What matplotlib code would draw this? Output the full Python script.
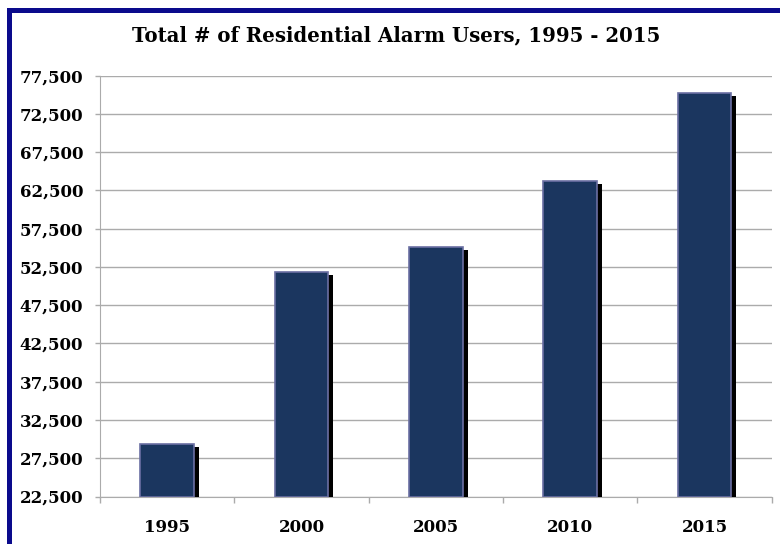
import numpy as np
import matplotlib
matplotlib.use('Agg')
import matplotlib.pyplot as plt
import matplotlib.patheffects as pe
from matplotlib.patches import Rectangle

# Data
years = ['1995', '2000', '2005', '2010', '2015']
users = [29400, 51850, 55150, 63700, 75300]
yticks = np.arange(22500, 77501, 5000)

# Styles
FONT = 'DejaVu Serif'
bar_col = '#1b365f'
edge_col = '#6b6fa3'
grid_col = '#ababab'
border_col = '#0a0a8c'

fig = plt.figure(figsize=(7.8, 5.44), dpi=100)
ax = fig.add_axes([100/780, 1-496.5/544, 671.7/780, (496.5-75.7)/544])

x = np.arange(len(years))
bars = ax.bar(x, np.array(users) - 22500, bottom=22500, width=0.40,
              color=bar_col, edgecolor=edge_col, linewidth=1.2, zorder=3)
for b in bars:
    b.set_path_effects([pe.SimplePatchShadow(offset=(3.6, -2.2), shadow_rgbFace='black', alpha=1.0),
                        pe.Normal()])

ax.set_xlim(-0.5, len(years) - 0.5)
ax.set_ylim(22500, 77500)
ax.set_yticks(yticks)
ax.set_yticklabels(['{:,}'.format(v) for v in yticks], fontsize=12,
                   fontweight='bold', family=FONT)
ax.set_xticks(x)
ax.set_xticklabels(years, fontsize=12, fontweight='bold', family=FONT)
ax.set_xticks(np.arange(-0.5, len(years)), minor=True)
ax.tick_params(axis='x', which='major', length=0, pad=16)
ax.tick_params(axis='x', which='minor', length=4.5, color=grid_col, width=1)
ax.tick_params(axis='y', length=3.6, color=grid_col, width=1, pad=8.5)

ax.grid(axis='y', color=grid_col, linewidth=1, zorder=0)
for s in ['top', 'right']:
    ax.spines[s].set_visible(False)
ax.spines['left'].set_color(grid_col)
ax.spines['bottom'].set_color(grid_col)
ax.set_axisbelow(True)

fig.text(396/780, 1-35/544, 'Total # of Residential Alarm Users, 1995 - 2015',
         ha='center', va='center', fontsize=14.2, fontweight='bold', family=FONT)

# Outer border (runs off right and bottom edges)
fig.patches.append(Rectangle((9/780, -0.2), 1.2, 1.2 - 10/544, transform=fig.transFigure,
                             fill=False, edgecolor=border_col, linewidth=3.6))

fig.savefig('out.png', dpi=100)
